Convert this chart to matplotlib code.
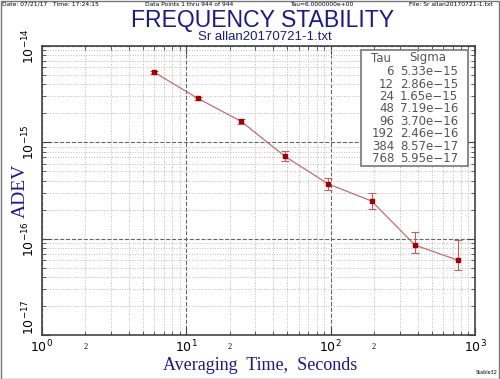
import matplotlib.pyplot as plt
import numpy as np
from matplotlib.ticker import LogLocator, FixedLocator, FixedFormatter, NullFormatter

tau = [6, 12, 24, 48, 96, 192, 384, 768]
sigma = [5.33e-15, 2.86e-15, 1.65e-15, 7.19e-16, 3.70e-16, 2.46e-16, 8.57e-17, 5.95e-17]
sigma_lo = [5.15e-15, 2.76e-15, 1.56e-15, 6.4e-16, 3.2e-16, 2.05e-16, 7.1e-17, 4.7e-17]
sigma_hi = [5.5e-15, 2.97e-15, 1.75e-15, 8.1e-16, 4.3e-16, 2.95e-16, 1.17e-16, 9.8e-17]

navy = "#1a1a8c"
fig = plt.figure(figsize=(5, 3.79), dpi=100)
ax = fig.add_axes([42/500, 1-335/379, 433/500, 289/379])

ax.set_xscale("log")
ax.set_yscale("log")
ax.set_xlim(1, 1000)
ax.set_ylim(1e-17, 1e-14)

# grid
ax.xaxis.set_minor_locator(FixedLocator([m * 10**e for e in range(3) for m in range(2, 10)]))
ax.yaxis.set_minor_locator(LogLocator(base=10, subs=np.arange(2, 10)))
ax.grid(True, which="minor", color="#bbbbbb", linestyle=":", linewidth=0.7)
ax.grid(True, which="major", color="#666666", linestyle="--", linewidth=0.8)
ax.tick_params(which="both", direction="in", top=True, right=True, color="#444444")
ax.tick_params(which="major", length=6)
ax.tick_params(which="minor", length=3)
for s in ax.spines.values():
    s.set_color("#444444")
    s.set_linewidth(1.2)

ax.set_xticks([1, 10, 100, 1000])
ax.set_xticklabels([r"$10^{0}$", r"$10^{1}$", r"$10^{2}$", r"$10^{3}$"],
                   fontfamily="Liberation Serif", fontsize=9)
minor_labels = []
for e in range(3):
    minor_labels += ["2", "", "", "", "", "", "", ""]
ax.xaxis.set_minor_formatter(FixedFormatter(minor_labels))
for lab in ax.xaxis.get_minorticklabels():
    lab.set_fontsize(6)
    lab.set_fontfamily("Liberation Serif")
ax.tick_params(axis="x", which="major", pad=3)
ax.tick_params(axis="x", which="minor", pad=6)

ax.set_yticks([1e-17, 1e-16, 1e-15, 1e-14])
ax.set_yticklabels([r"$10^{-17}$", r"$10^{-16}$", r"$10^{-15}$", r"$10^{-14}$"],
                   fontfamily="Liberation Serif", fontsize=9, rotation=90, va="center")
ax.get_yticklabels()[0].set_va("bottom")
ax.yaxis.set_minor_formatter(NullFormatter())

# data
yerr = [np.array(sigma) - np.array(sigma_lo), np.array(sigma_hi) - np.array(sigma)]
ax.plot(tau, sigma, color="#c07070", linewidth=0.9, zorder=3)
ax.errorbar(tau, sigma, yerr=yerr, fmt="none", ecolor="#c06060", elinewidth=0.8,
            capsize=3, capthick=0.8, zorder=3)
ax.plot(tau, sigma, "s", color="#a00000", markersize=3.5, zorder=4)

ax.set_xlabel("Averaging  Time,  Seconds", fontfamily="Liberation Serif",
              fontsize=13, color=navy)
ax.xaxis.set_label_coords(0.503, -0.105)
ax.xaxis.label.set_va("center")
ax.set_ylabel("ADEV", fontfamily="Liberation Serif", fontsize=14, color=navy)
ax.yaxis.set_label_coords(-0.051, 0.5)
ax.yaxis.label.set_va("center")

# table
ax.add_patch(plt.Rectangle((0.737, 0.585), 0.247, 0.401, transform=ax.transAxes,
                           facecolor="white", edgecolor="#777777", linewidth=1.2, zorder=5))
tstyle = dict(transform=ax.transAxes, fontsize=8.5, color="#555555", va="center",
              family="DejaVu Sans", zorder=6)
y0 = (335 - 58) / 289
dy = 12.4 / 289
ax.text(0.760, y0, "Tau", ha="left", **tstyle)
ax.text(0.848, y0, "Sigma", ha="left", **tstyle)
for i, (t, s) in enumerate(zip(tau, sigma)):
    yy = y0 - (i + 1.1) * dy
    ax.text(0.813, yy, "%d" % t, ha="right", **tstyle)
    ax.text(0.827, yy, ("%.2e" % s).replace("e-", "e\u2212"), ha="left", **tstyle)

# header texts
hy = 0.996
fig.text(0.005, hy, "Date: 07/21/17   Time: 17:24:15", fontsize=4.3, va="top")
fig.text(0.29, hy, "Data Points 1 thru 944 of 944", fontsize=4.3, va="top")
fig.text(0.58, hy, "Tau=6.0000000e+00", fontsize=4.3, va="top")
fig.text(0.985, hy, "File: Sr allan20170721-1.txt", fontsize=4.3, va="top", ha="right")
fig.text(0.525, 1 - 26.5/379, "FREQUENCY STABILITY", fontsize=16.6, color=navy, ha="center",
         va="baseline", family="Liberation Sans")
fig.text(0.53, 1 - 40.5/379, "Sr allan20170721-1.txt", fontsize=9.5, color=navy, ha="center",
         va="baseline", family="Liberation Sans")
fig.text(0.995, 0.01, "Stable32", fontsize=3.5, ha="right", va="bottom")

fig.patches.append(plt.Rectangle((0.001, 0.001), 0.997, 0.997, transform=fig.transFigure,
                                 fill=False, edgecolor="#777777", linewidth=1.0))

fig.savefig("out.png", dpi=100)
